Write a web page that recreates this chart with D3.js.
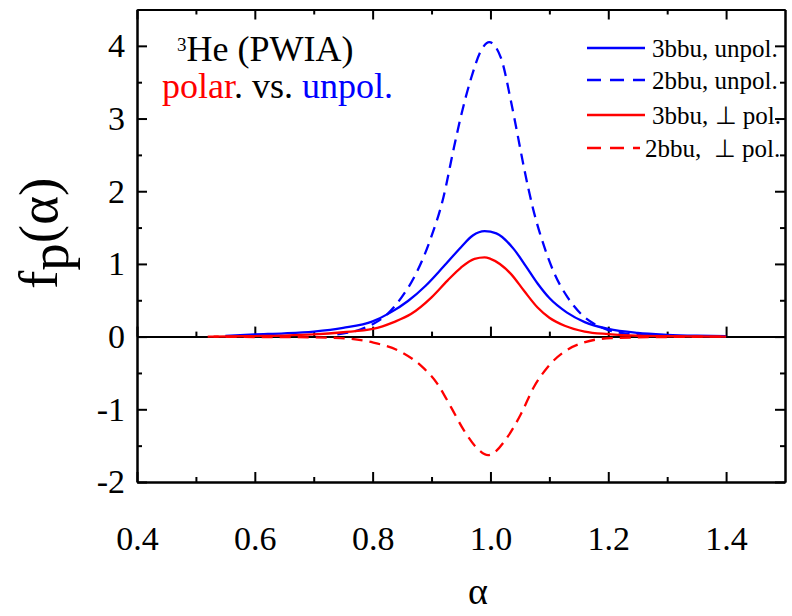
<!DOCTYPE html>
<html>
<head>
<meta charset="utf-8">
<script src="https://cdn.jsdelivr.net/npm/d3@7"></script>
<style>
  html, body { margin: 0; padding: 0; background: #fff; }
  svg { display: block; }
  svg text { font-family: "Liberation Serif", "Times New Roman", Times, serif !important; white-space: pre; }
</style>
</head>
<body>
<svg id="chart" width="792" height="616"></svg>
<script>
// Momentum distribution f_p(alpha) for 3He in PWIA, polarized vs unpolarized

// 3bbu, unpolarized
const alpha3bbuUnpol = [0.55, 0.60, 0.65, 0.70, 0.75, 0.80, 0.83, 0.86, 0.89, 0.92, 0.95, 0.97, 0.99, 1.01, 1.04, 1.06, 1.08, 1.10, 1.13, 1.16, 1.20, 1.25, 1.30, 1.35, 1.40];
const f3bbuUnpol     = [0.01, 0.03, 0.045, 0.07, 0.12, 0.21, 0.33, 0.49, 0.70, 0.96, 1.23, 1.39, 1.45, 1.42, 1.20, 0.97, 0.73, 0.53, 0.33, 0.20, 0.105, 0.05, 0.025, 0.012, 0.005];

// 2bbu, unpolarized
const alpha2bbuUnpol = [0.74, 0.78, 0.80, 0.825, 0.85, 0.87, 0.899, 0.92, 0.938, 0.949, 0.967, 0.985, 0.998, 1.018, 1.035, 1.046, 1.057, 1.072, 1.092, 1.109, 1.131, 1.154, 1.171, 1.20, 1.23, 1.27];
const f2bbuUnpol     = [0.03, 0.10, 0.17, 0.31, 0.55, 0.81, 1.36, 1.91, 2.60, 3.00, 3.55, 3.95, 4.05, 3.83, 3.23, 2.78, 2.32, 1.77, 1.22, 0.86, 0.54, 0.31, 0.20, 0.09, 0.04, 0.015];

// 3bbu, perpendicular polarization
const alpha3bbuPerp = [0.53, 0.60, 0.65, 0.70, 0.75, 0.80, 0.836, 0.865, 0.90, 0.927, 0.95, 0.973, 0.99, 1.00, 1.035, 1.057, 1.08, 1.10, 1.126, 1.16, 1.20, 1.25, 1.30, 1.40];
const f3bbuPerp     = [0.0, 0.008, 0.015, 0.03, 0.06, 0.105, 0.20, 0.31, 0.54, 0.77, 0.95, 1.07, 1.09, 1.07, 0.86, 0.63, 0.40, 0.26, 0.15, 0.07, 0.035, 0.012, 0.005, 0.0];

// 2bbu, perpendicular polarization
const alpha2bbuPerp = [0.52, 0.60, 0.70, 0.746, 0.80, 0.848, 0.882, 0.91, 0.933, 0.955, 0.978, 0.996, 1.029, 1.052, 1.074, 1.097, 1.125, 1.159, 1.205, 1.30, 1.40];
const f2bbuPerp     = [0.0, -0.005, -0.01, -0.02, -0.08, -0.21, -0.40, -0.65, -0.97, -1.29, -1.54, -1.63, -1.38, -1.06, -0.69, -0.42, -0.21, -0.08, -0.02, -0.005, 0.0];

const seriesNames  = ["3bbu, unpol.", "2bbu, unpol.", "3bbu, \u22A5 pol.", "2bbu,  \u22A5 pol."];
const seriesColors = ["#0000ff", "#0000ff", "#ff0000", "#ff0000"];
const seriesDashed = [false, true, false, true];
const seriesAlpha  = [alpha3bbuUnpol, alpha2bbuUnpol, alpha3bbuPerp, alpha2bbuPerp];
const seriesValues = [f3bbuUnpol, f2bbuUnpol, f3bbuPerp, f2bbuPerp];

const xMajorTicks = [0.4, 0.6, 0.8, 1.0, 1.2, 1.4];
const xMinorTicks = [0.5, 0.7, 0.9, 1.1, 1.3];
const yMajorTicks = [-2, -1, 0, 1, 2, 3, 4];
const yMinorTicks = [-1.5, -0.5, 0.5, 1.5, 2.5, 3.5];

const svg = d3.select("#chart");
const plotLeft = 137, plotRight = 785, plotTop = 9.5, plotBottom = 482;

const x = d3.scaleLinear().domain([0.4, 1.5]).range([plotLeft, plotRight]);
const y = d3.scaleLinear().domain([-2, 4.5]).range([plotBottom, plotTop]);

function styleAxis(g) {
  g.attr("font-family", null);
  g.selectAll("path.domain").attr("stroke", "#000").attr("stroke-width", 2);
  g.selectAll(".tick line").attr("stroke", "#000").attr("stroke-width", 2);
  g.selectAll(".tick text").attr("fill", "#000");
}

function addAxis(axis, tx, ty) {
  const g = svg.append("g").attr("transform", `translate(${tx},${ty})`).call(axis);
  styleAxis(g);
  return g;
}

// bottom axis with labels
const gB = addAxis(d3.axisBottom(x).tickValues(xMajorTicks).tickSize(-10).tickSizeOuter(0)
  .tickPadding(44).tickFormat(d3.format(".1f")), 0, plotBottom);
gB.selectAll(".tick text").attr("font-size", 34);
addAxis(d3.axisBottom(x).tickValues(xMinorTicks).tickSize(-5).tickSizeOuter(0).tickFormat(""), 0, plotBottom);

// top axis
addAxis(d3.axisTop(x).tickValues(xMajorTicks).tickSize(-10).tickSizeOuter(0).tickFormat(""), 0, plotTop);
addAxis(d3.axisTop(x).tickValues(xMinorTicks).tickSize(-5).tickSizeOuter(0).tickFormat(""), 0, plotTop);

// left axis with labels
const gL = addAxis(d3.axisLeft(y).tickValues(yMajorTicks).tickSize(-10).tickSizeOuter(0)
  .tickPadding(12).tickFormat(d => String(d)), plotLeft, 0);
gL.selectAll(".tick text").attr("font-size", 34);
addAxis(d3.axisLeft(y).tickValues(yMinorTicks).tickSize(-5).tickSizeOuter(0).tickFormat(""), plotLeft, 0);

// right axis
addAxis(d3.axisRight(y).tickValues(yMajorTicks).tickSize(-10).tickSizeOuter(0).tickFormat(""), plotRight, 0);
addAxis(d3.axisRight(y).tickValues(yMinorTicks).tickSize(-5).tickSizeOuter(0).tickFormat(""), plotRight, 0);

// zero line with upward ticks
addAxis(d3.axisTop(x).tickValues(xMajorTicks).tickSize(10).tickSizeOuter(0).tickFormat(""), 0, y(0));
addAxis(d3.axisTop(x).tickValues(xMinorTicks).tickSize(5).tickSizeOuter(0).tickFormat(""), 0, y(0));

// curves
const line = d3.line().x(d => x(d[0])).y(d => y(d[1])).curve(d3.curveMonotoneX);
seriesNames.forEach((name, i) => {
  const pts = d3.zip(seriesAlpha[i], seriesValues[i]);
  svg.append("path")
    .datum(pts)
    .attr("d", line)
    .attr("fill", "none")
    .attr("stroke", seriesColors[i])
    .attr("stroke-width", 2.3)
    .attr("stroke-dasharray", seriesDashed[i] ? "11,7" : null);
});

// legend
const legendY = [48, 80, 115, 148];
const legendLineX = [[587, 645], [587, 645], [587, 645], [587, 640]];
const legendTextX = [652, 652, 652, 645];
seriesNames.forEach((name, i) => {
  svg.append("line")
    .attr("x1", legendLineX[i][0]).attr("x2", legendLineX[i][1])
    .attr("y1", legendY[i]).attr("y2", legendY[i])
    .attr("stroke", seriesColors[i]).attr("stroke-width", 2.3)
    .attr("stroke-dasharray", seriesDashed[i] ? "14,9" : null);
  svg.append("text")
    .attr("x", legendTextX[i]).attr("y", legendY[i] + 9)
    .attr("font-size", 25).attr("fill", "#000")
    .text(name);
});

// title block
const t1 = svg.append("text").attr("x", 177).attr("y", 61).attr("font-size", 36).attr("fill", "#000");
t1.append("tspan").attr("font-size", 19).attr("dy", -10).text("3");
t1.append("tspan").attr("dy", 10).text("He (PWIA)");

const t2 = svg.append("text").attr("x", 162).attr("y", 98).attr("font-size", 36);
t2.append("tspan").attr("fill", "#ff0000").text("polar");
t2.append("tspan").attr("fill", "#000").text(". vs. ");
t2.append("tspan").attr("fill", "#0000ff").text("unpol.");

// axis titles
svg.append("text").attr("x", 478).attr("y", 604).attr("text-anchor", "middle")
  .attr("font-size", 38).attr("fill", "#000").text("\u03B1");

const yl = svg.append("text").attr("transform", "translate(57,289) rotate(-90)")
  .attr("font-size", 55).attr("fill", "#000");
yl.append("tspan").text("f");
yl.append("tspan").attr("dy", 11).text("p");
yl.append("tspan").attr("dy", -11).text("(\u03B1)");
</script>
</body>
</html>
